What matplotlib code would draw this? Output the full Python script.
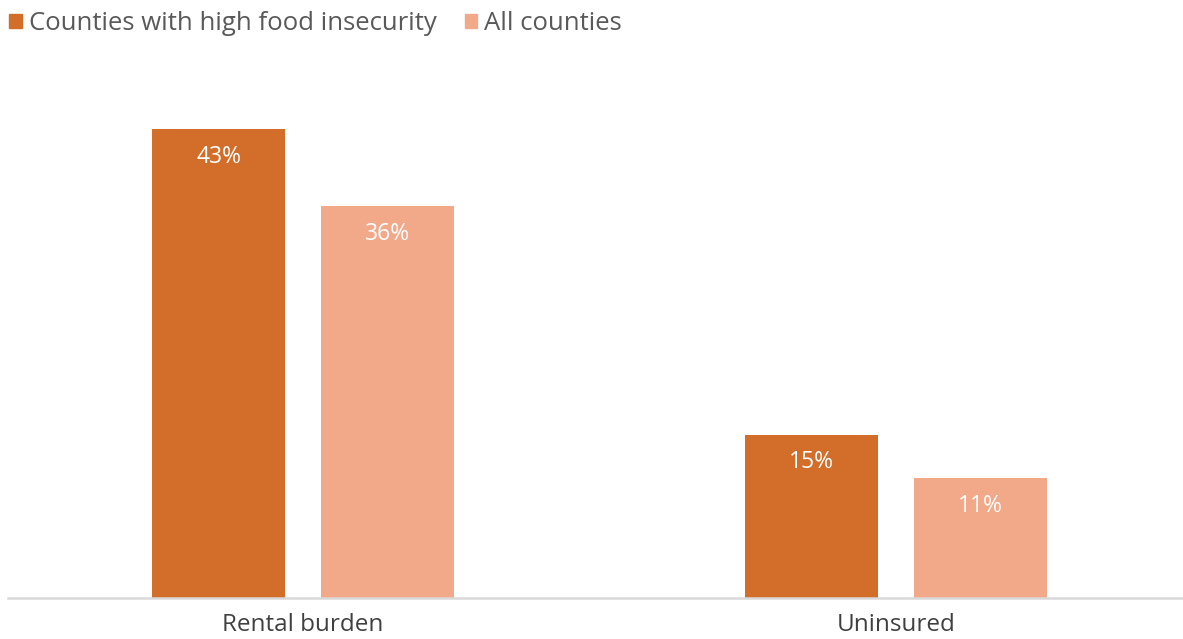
import matplotlib
matplotlib.use("Agg")
import matplotlib.pyplot as plt
import numpy as np
from matplotlib.patches import Patch

categories = ["Rental burden", "Uninsured"]
series_names = ["Counties with high food insecurity", "All counties"]
high_food = [43, 15]
all_counties = [36, 11]
colors = ["#D36E2A", "#F2A98A"]

plt.rcParams['font.family'] = ['Open Sans', 'DejaVu Sans']

fig = plt.figure(figsize=(11.83, 6.39), dpi=100)
ax = fig.add_axes([8/1183, 41/639, 1175/1183, 545/639])

x = np.arange(len(categories))
w = 0.224
off = 0.1425
for vals, o, c in [(high_food, -off, colors[0]), (all_counties, off, colors[1])]:
    bars = ax.bar(x + o, vals, width=w, color=c, zorder=2)
    for b, v in zip(bars, vals):
        ax.annotate(f"{v}%", (b.get_x() + b.get_width()/2, v), xytext=(0, -28),
                    textcoords="offset pixels",
                    ha="center", va="center", color="white", fontsize=16.5)

ax.set_xlim(-0.4975, 1.484)
ax.set_ylim(0, 50)
ax.set_yticks([])
ax.set_xticks(x)
ax.set_xticklabels(categories, fontsize=17.5, color="#404040")
ax.tick_params(axis="x", length=0, pad=11)
for s in ["top", "right", "left"]:
    ax.spines[s].set_visible(False)
ax.spines["bottom"].set_color("#D9D9D9")
ax.spines["bottom"].set_linewidth(1.8)

handles = [Patch(color=c, label=n) for c, n in zip(colors, series_names)]
leg = fig.legend(handles=handles, loc="upper left", bbox_to_anchor=(-0.003, 1.003),
                 ncol=2, frameon=False, fontsize=18.5, handlelength=0.48,
                 handleheight=0.48, handletextpad=0.28, columnspacing=1.1,
                 borderaxespad=0.2, borderpad=0.3)
for t in leg.get_texts():
    t.set_color("#595959")

fig.savefig("out.png", dpi=100)
